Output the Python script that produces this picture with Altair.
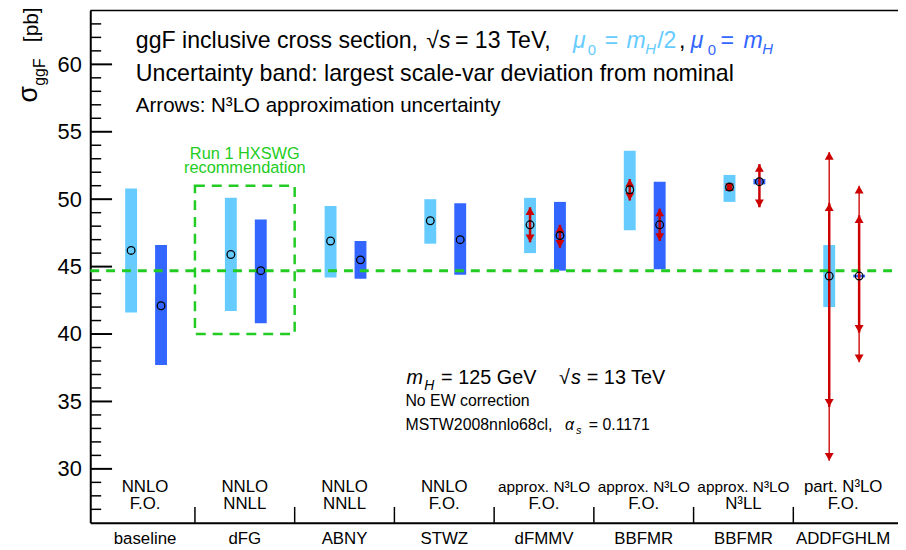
import altair as alt
import pandas as pd

# ---------------- data ----------------
categories = ["baseline", "dFG", "ABNY", "STWZ", "dFMMV", "BBFMR", "BBFMR", "ADDFGHLM"]
order_labels = ["NNLO", "NNLO", "NNLO", "NNLO", "approx. N³LO", "approx. N³LO", "approx. N³LO", "part. N³LO"]
resum_labels = ["F.O.", "NNLL", "NNLL", "F.O.", "F.O.", "F.O.", "N³LL", "F.O."]

# mu0 = mH/2 (light blue)
half_central = [46.2, 45.9, 46.9, 48.4, 48.1, 50.7, 50.9, 44.3]
half_low = [41.6, 41.7, 44.2, 46.7, 46.0, 47.7, 49.8, 42.0]
half_high = [50.8, 50.1, 49.5, 50.0, 50.1, 53.6, 51.8, 46.6]
# mu0 = mH (dark blue)
full_central = [42.1, 44.7, 45.5, 47.0, 47.3, 48.1, 51.3, 44.3]
full_low = [37.7, 40.8, 44.1, 44.4, 44.7, 44.8, 51.1, 44.2]
full_high = [46.6, 48.5, 46.9, 49.7, 49.8, 51.3, 51.5, 44.4]

# N3LO approximation uncertainty arrows
arrow_cat = [4, 4, 5, 5, 6, 6, 7, 7, 7, 7]
arrow_scale = ["half", "full", "half", "full", "half", "full", "half", "full", "half", "full"]
arrow_low = [46.8, 46.4, 49.9, 46.9, 50.6, 49.4, 34.6, 40.1, 30.6, 37.9]
arrow_high = [49.4, 48.1, 51.5, 49.3, 51.2, 52.6, 49.7, 48.8, 53.5, 51.0]
arrow_kind = ["main"] * 8 + ["outer"] * 2

# Run 1 HXSWG recommendation
hxswg_value = 44.7
hxswg_cat = 1
hxswg_box_low = 40.0
hxswg_box_high = 51.0

y_major = [30, 35, 40, 45, 50, 55, 60]
y_minor = [v for v in range(27, 64) if v % 5 != 0]

# ---------------- style ----------------
LIGHT = "#66ccff"
DARK = "#3366ff"
RED = "#cc0000"
GREEN = "#22cc22"
FONT = "Liberation Sans"
W, H = 815, 517
OFFSET = {"half": 0.36, "full": 0.66}

X_SCALE = alt.Scale(domain=[0, len(categories)], nice=False, zero=False)
Y_SCALE = alt.Scale(domain=[26, 64], nice=False, zero=False)
X_AXIS = alt.Axis(title=None, labels=False, ticks=False, grid=False, domain=True,
                  domainColor="black", domainWidth=2)
Y_AXIS = alt.Axis(title=None, values=y_major, ticks=False, grid=False, domain=True,
                  domainColor="black", domainWidth=2, labelFont=FONT, labelFontSize=22,
                  labelColor="black", labelPadding=9, format="d")


def X(field):
    return alt.X(field, type="quantitative", scale=X_SCALE, axis=X_AXIS)


def Y(field):
    return alt.Y(field, type="quantitative", scale=Y_SCALE, axis=Y_AXIS)


def Y2(field):
    return alt.Y2(field)


# ---------------- tables ----------------
rows = []
for i in range(len(categories)):
    rows.append(dict(x=i + OFFSET["half"], c=half_central[i], lo=half_low[i], hi=half_high[i], s="half"))
    rows.append(dict(x=i + OFFSET["full"], c=full_central[i], lo=full_low[i], hi=full_high[i], s="full"))
bars = pd.DataFrame(rows)

arrows = pd.DataFrame(dict(
    x=[c + OFFSET[s] for c, s in zip(arrow_cat, arrow_scale)],
    lo=arrow_low, hi=arrow_high, kind=arrow_kind, s=arrow_scale))

labels = pd.DataFrame(dict(
    xc=[i + 0.5 for i in range(len(categories))],
    cat=categories, order=order_labels, resum=resum_labels,
    fs=[15.5 if o.startswith("approx") else 17 for o in order_labels]))

dividers = pd.DataFrame(dict(b=list(range(1, len(categories)))))
major = pd.DataFrame(dict(v=y_major))
minor = pd.DataFrame(dict(v=y_minor))
hline = pd.DataFrame(dict(v=[hxswg_value]))
box = pd.DataFrame(dict(x0=[hxswg_cat], x1=[hxswg_cat + 1], y0=[hxswg_box_low], y1=[hxswg_box_high],
                        xc=[hxswg_cat + 0.5]))

layers = []

# bands
layers.append(alt.Chart(bars).mark_bar(size=12).encode(
    x=X("x"), y=Y("lo"), y2=Y2("hi"),
    color=alt.Color("s:N", scale=alt.Scale(domain=["half", "full"], range=[LIGHT, DARK]), legend=None)))

# ticks (inside)
layers.append(alt.Chart(major).mark_rule(color="black", strokeWidth=2).encode(
    y=Y("v"), x=alt.value(0), x2=alt.value(22)))
layers.append(alt.Chart(minor).mark_rule(color="black", strokeWidth=1.5).encode(
    y=Y("v"), x=alt.value(0), x2=alt.value(11)))
layers.append(alt.Chart(dividers).mark_rule(color="black", strokeWidth=1.5).encode(
    x=X("b"), y=alt.value(H), y2=alt.value(H - 16)))
# top frame
layers.append(alt.Chart(hline).mark_rule(color="black", strokeWidth=1.5).encode(
    x=alt.value(0), x2=alt.value(W), y=alt.value(0)))

# green recommendation
layers.append(alt.Chart(hline).mark_rule(color=GREEN, strokeWidth=3, strokeDash=[9, 7]).encode(
    y=Y("v"), x=alt.value(0), x2=alt.value(W)))
layers.append(alt.Chart(box).mark_rect(fillOpacity=0, stroke=GREEN, strokeWidth=2.5, strokeDash=[10, 7]).encode(
    x=X("x0"), x2=alt.X2("x1"), y=Y("y0"), y2=Y2("y1")))
for txt, py in [("Run 1 HXSWG", 150), ("recommendation", 164)]:
    layers.append(alt.Chart(box).mark_text(text=txt, font=FONT, fontSize=16.5, color=GREEN,
                                           align="center", baseline="alphabetic").encode(
        x=X("xc"), y=alt.value(py)))

# arrows
HEAD = 81
HH = 0.866 * 4.5
for kind, sw, op in [("main", 2.5, 1.0), ("outer", 1.6, 0.85)]:
    d = arrows[arrows.kind == kind]
    layers.append(alt.Chart(d).mark_rule(color=RED, strokeWidth=sw, opacity=op).encode(
        x=X("x"), y=Y("lo"), y2=Y2("hi")))
    layers.append(alt.Chart(d).mark_point(shape="triangle-up", size=HEAD, filled=True, color=RED,
                                          opacity=1, yOffset=HH).encode(x=X("x"), y=Y("hi")))
    layers.append(alt.Chart(d).mark_point(shape="triangle-down", size=HEAD, filled=True, color=RED,
                                          opacity=1, yOffset=-HH).encode(x=X("x"), y=Y("lo")))

# central values
layers.append(alt.Chart(bars).mark_point(shape="circle", size=60, filled=False, color="black",
                                         strokeWidth=1.3, opacity=1).encode(x=X("x"), y=Y("c")))

# bottom labels
layers.append(alt.Chart(labels).mark_text(font=FONT, color="black", align="center", baseline="alphabetic").encode(
    x=X("xc"), y=alt.value(486), text="order:N", size=alt.Size("fs:Q", scale=None)))
layers.append(alt.Chart(labels).mark_text(font=FONT, fontSize=17, color="black", align="center",
                                          baseline="alphabetic").encode(
    x=X("xc"), y=alt.value(503), text="resum:N"))
layers.append(alt.Chart(labels).mark_text(font=FONT, fontSize=17, color="black", align="center",
                                          baseline="alphabetic").encode(
    x=X("xc"), y=alt.value(538), text="cat:N"))


# free annotations
def piece(t, px, py, fs, color="black", italic=False, angle=0):
    kw = dict(font=FONT, fontSize=fs, color=color, align="left", baseline="alphabetic")
    if italic:
        kw["fontStyle"] = "italic"
    if angle:
        kw["angle"] = angle
    return alt.Chart(pd.DataFrame(dict(t=[t]))).mark_text(**kw).encode(
        x=alt.value(px), y=alt.value(py), text="t:N")


ann = [
    ("ggF inclusive cross section,", 46, 38, 23.3, "black", False),
    ("√", 339, 38, 23.3, "black", False),
    ("s", 352, 38, 23.3, "black", True),
    ("= 13 TeV,", 368, 38, 23.3, "black", False),
    ("μ", 487, 38, 23.3, LIGHT, True),
    ("0", 502, 45, 15, LIGHT, False),
    ("=", 519, 38, 23.3, LIGHT, False),
    ("m", 541, 38, 23.3, LIGHT, True),
    ("H", 560, 44, 15, LIGHT, True),
    ("/2", 572, 38, 23.3, LIGHT, False),
    (",", 594, 38, 23.3, "black", False),
    ("μ", 606, 38, 23.3, DARK, True),
    ("0", 623, 45, 15, DARK, False),
    ("=", 636, 38, 23.3, DARK, False),
    ("m", 659, 38, 23.3, DARK, True),
    ("H", 678, 44, 15, DARK, True),
    ("Uncertainty band: largest scale-var deviation from nominal", 46, 71, 23.4, "black", False),
    ("Arrows: N³LO approximation uncertainty", 46, 102, 20.7, "black", False),
    ("m", 319, 377, 20, "black", True),
    ("H", 337, 383, 14, "black", True),
    ("= 125 GeV", 354, 377, 20, "black", False),
    ("√", 473, 377, 20, "black", False),
    ("s", 485, 377, 20, "black", True),
    ("= 13 TeV", 501, 377, 20, "black", False),
    ("No EW correction", 318, 399, 16, "black", False),
    ("MSTW2008nnlo68cl,", 318, 423, 16, "black", False),
    ("α", 479, 423, 16, "black", True),
    ("s", 490, 427, 11, "black", True),
    ("= 0.1171", 503, 423, 16, "black", False),
]
for t, px, py, fs, col, it in ann:
    layers.append(piece(t, px, py, fs, col, it))

# y-axis title (rotated)
layers.append(piece("σ", -54, 93, 27, angle=270))
layers.append(piece("ggF", -46, 76, 16, angle=270))
layers.append(piece("[pb]", -53, 32, 21, angle=270))

chart = alt.layer(*layers).properties(
    width=W, height=H,
    autosize=alt.AutoSizeParams(type="none"),
    padding={"left": 83, "top": 0, "right": 0, "bottom": 25},
).configure_view(stroke=None)

chart.save("out.html", embed_options={"renderer": "svg", "actions": False})
